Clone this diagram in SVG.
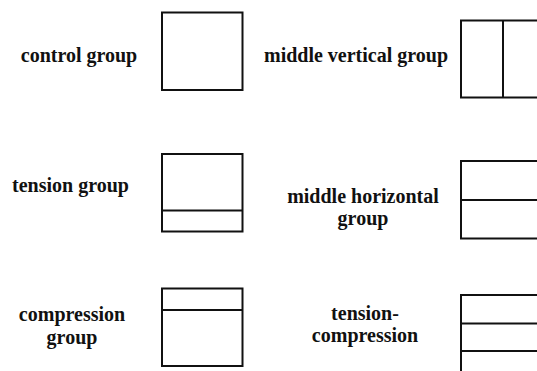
<svg xmlns="http://www.w3.org/2000/svg" width="537" height="371" viewBox="0 0 537 371">
<style>
.box{fill:none;stroke:#111;stroke-width:2}
.ln{stroke:#111;stroke-width:2}
.lbl{font-weight:bold;font-size:20px;fill:#111;text-anchor:middle}
</style>
<rect width="537" height="371" fill="#fff"/>
<g font-family="'Liberation Serif', 'Times New Roman', 'DejaVu Serif', serif">
<g id="control">
<text class="lbl" x="79" y="62">control group</text>
<rect class="box" x="162" y="12.5" width="80.5" height="77.5"/>
</g>
<g id="middle-vertical">
<text class="lbl" x="356" y="62">middle vertical group</text>
<path class="box" d="M545 20.5 H461 V97.5 H545"/>
<line class="ln" x1="503" y1="20.5" x2="503" y2="97.5"/>
</g>
<g id="tension">
<text class="lbl" x="70.5" y="192">tension group</text>
<rect class="box" x="162" y="154" width="80.5" height="77.5"/>
<line class="ln" x1="162" y1="210.5" x2="242.5" y2="210.5"/>
</g>
<g id="middle-horizontal">
<text class="lbl" x="363" y="203">middle horizontal</text>
<text class="lbl" x="363" y="225">group</text>
<path class="box" d="M545 161 H461 V238.5 H545"/>
<line class="ln" x1="461" y1="200" x2="537" y2="200"/>
</g>
<g id="compression">
<text class="lbl" x="72" y="321">compression</text>
<text class="lbl" x="72" y="344">group</text>
<rect class="box" x="162" y="288.5" width="80.5" height="77.5"/>
<line class="ln" x1="162" y1="310" x2="242.5" y2="310"/>
</g>
<g id="tension-compression">
<text class="lbl" x="365" y="320">tension-</text>
<text class="lbl" x="365" y="342">compression</text>
<path class="box" d="M545 295 H461 V380"/>
<line class="ln" x1="461" y1="323.5" x2="537" y2="323.5"/>
<line class="ln" x1="461" y1="351" x2="537" y2="351"/>
</g>
</g>
<g id="connectors"/>
</svg>
